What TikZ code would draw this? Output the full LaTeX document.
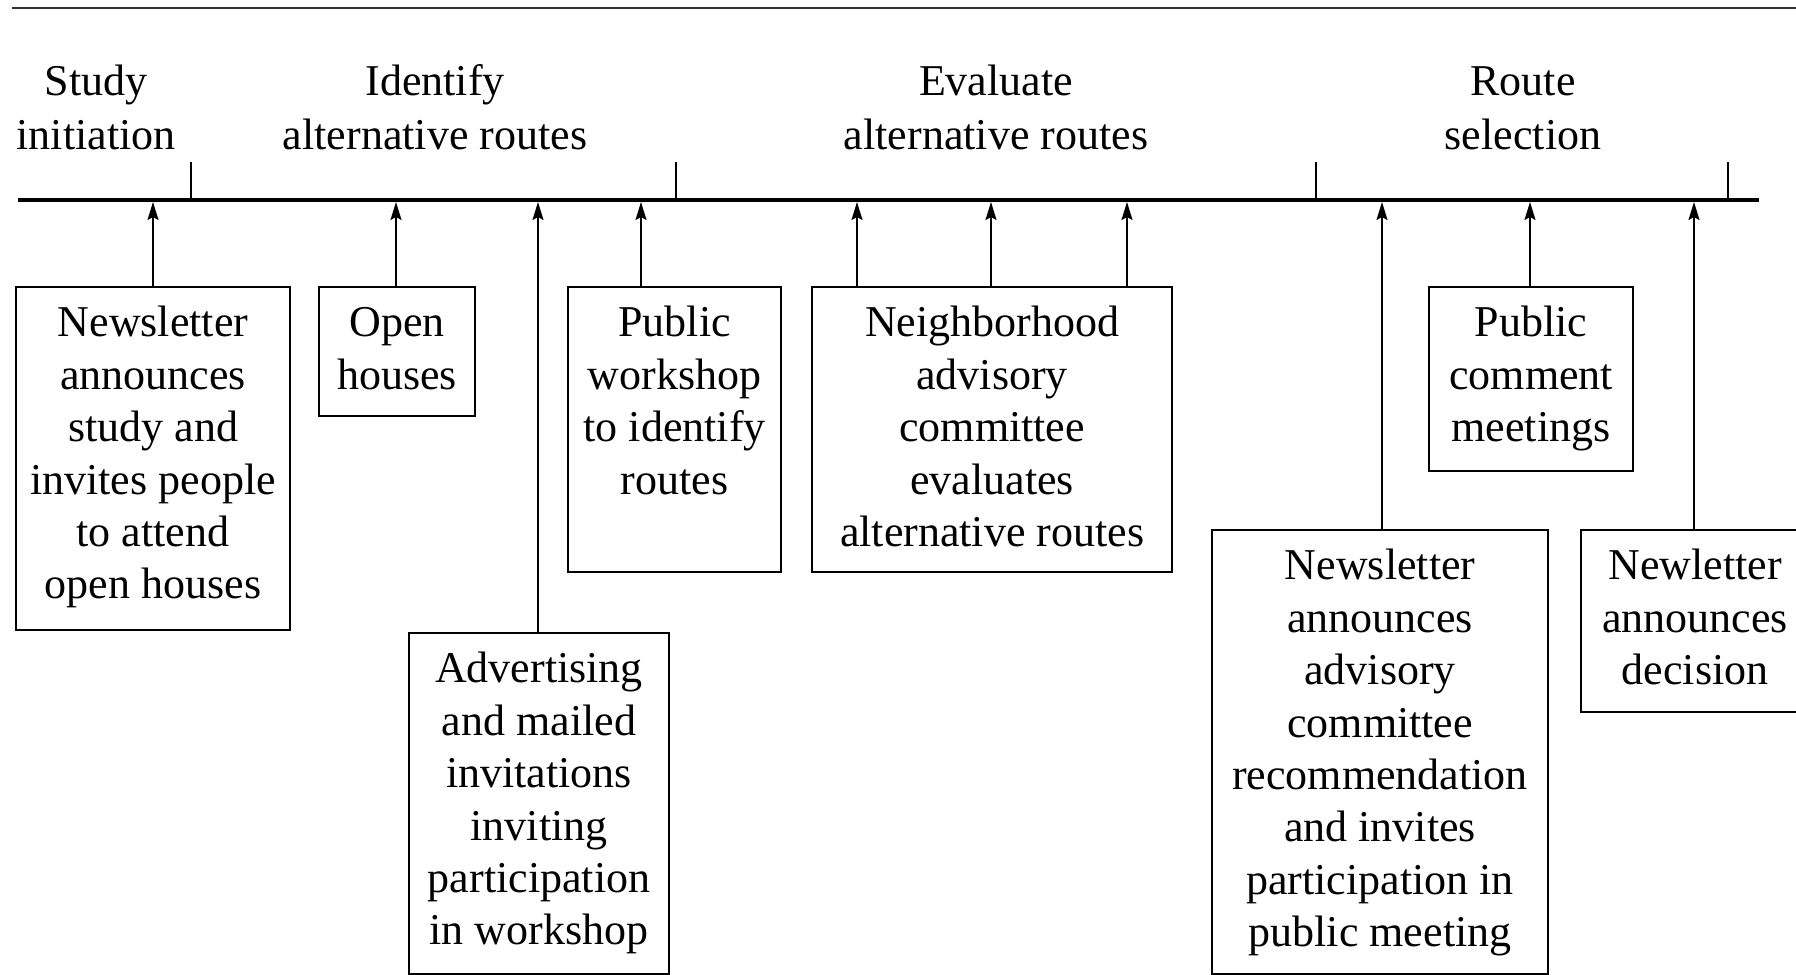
\documentclass[tikz,border=0pt]{standalone}
\usepackage{fontspec}
\setmainfont{Liberation Serif}
\usetikzlibrary{arrows.meta}

% top-aligned, centred text block of fixed width and total height
\newcommand\cardtext[3]{\parbox[t][#2][t]{#1}{\centering\strut #3}}

\begin{document}
\begin{tikzpicture}[x=0.5pt, y=-0.5pt,
  every node/.style={font=\fontsize{22}{26.2}\selectfont},
  card/.style={draw, line width=1.1pt, anchor=north west, inner xsep=0pt, inner ysep=6.6pt},
  phase/.style={align=center, inner sep=0pt},
  arr/.style={line width=1pt, -{Stealth[length=9pt, width=5.5pt, inset=1.5pt]}},
  tick/.style={line width=1.1pt},
  axisline/.style={line width=2.25pt},
]
\clip (0,0) rectangle (1796,975);

% rule at the top and the time axis
\coordinate (topL) at (12,7.5);
\coordinate (topR) at (1796,7.5);
\draw[line width=1pt, black!80] (topL) -- (topR);
\coordinate (axL) at (18,200);
\coordinate (axR) at (1759,200);
\draw[axisline] (axL) -- (axR);
\coordinate (axb) at (0,202);

% phase boundaries
\foreach \t/\x in {t1/191, t2/676, t3/1316, t4/1728} {
  \coordinate (\t) at (\x,162);
  \draw[tick] (\t) -- (\t |- axL);
}

% phase titles
\node[phase, anchor=base] (h1a) at (96,95.5) {Study};
\node[phase, anchor=base] (h1b) at (96,149) {initiation};
\node[phase, anchor=base] (h2a) at (435,95.5) {Identify};
\node[phase, anchor=base] (h2b) at (435,149) {alternative routes};
\node[phase, anchor=base] (h3a) at (996,95.5) {Evaluate};
\node[phase, anchor=base] (h3b) at (996,149) {alternative routes};
\node[phase, anchor=base] (h4a) at (1523,95.5) {Route};
\node[phase, anchor=base] (h4b) at (1523,149) {selection};

% activity boxes
\node[card] (b1) at (15,286)
  {\cardtext{137pt}{158.3pt}{Newsletter\\announces\\study and\\invites people\\to attend\\open houses}};
\node[card] (b2) at (318,286)
  {\cardtext{78pt}{51.3pt}{Open\\houses}};
\node[card] (b3) at (408,632)
  {\cardtext{130pt}{157.3pt}{Advertising\\and mailed\\invitations\\inviting\\participation\\in workshop}};
\node[card] (b4) at (567,286)
  {\cardtext{106.5pt}{129.3pt}{Public\\workshop\\to identify\\routes}};
\node[card] (b5) at (811,286)
  {\cardtext{180pt}{129.3pt}{Neighborhood\\advisory\\committee\\evaluates\\alternative routes}};
\node[card] (b6) at (1211,529)
  {\cardtext{168pt}{208.8pt}{Newsletter\\announces\\advisory\\committee\\recommendation\\and invites\\participation in\\public meeting}};
\node[card] (b7) at (1428,286)
  {\cardtext{102pt}{78.8pt}{Public\\comment\\meetings}};
\node[card] (b8) at (1580,529)
  {\cardtext{114pt}{77.8pt}{Newletter\\announces\\decision}};

% arrow positions along the axis
\coordinate (x1) at (153,0);
\coordinate (x2) at (396,0);
\coordinate (x3) at (538,0);
\coordinate (x4) at (641,0);
\coordinate (x5a) at (857,0);
\coordinate (x5b) at (991,0);
\coordinate (x5c) at (1127,0);
\coordinate (x6) at (1382,0);
\coordinate (x7) at (1530,0);
\coordinate (x8) at (1694,0);

\draw[arr] (b1.north -| x1) -- (axb -| x1);
\draw[arr] (b2.north -| x2) -- (axb -| x2);
\draw[arr] (b3.north -| x3) -- (axb -| x3);
\draw[arr] (b4.north -| x4) -- (axb -| x4);
\draw[arr] (b5.north -| x5a) -- (axb -| x5a);
\draw[arr] (b5.north -| x5b) -- (axb -| x5b);
\draw[arr] (b5.north -| x5c) -- (axb -| x5c);
\draw[arr] (b6.north -| x6) -- (axb -| x6);
\draw[arr] (b7.north -| x7) -- (axb -| x7);
\draw[arr] (b8.north -| x8) -- (axb -| x8);
\end{tikzpicture}
\end{document}
